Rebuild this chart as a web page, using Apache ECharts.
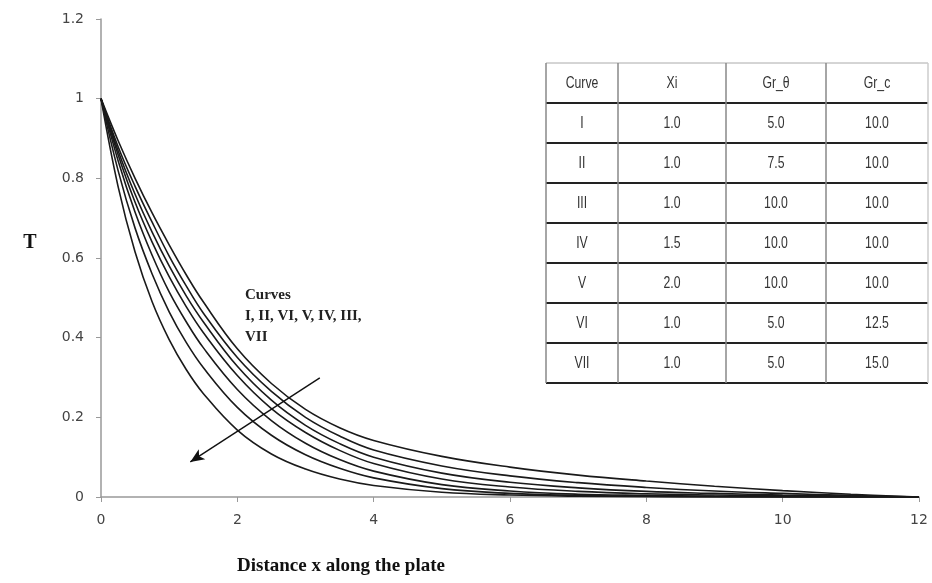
<!DOCTYPE html>
<html>
<head>
<meta charset="utf-8">
<script src="https://cdn.jsdelivr.net/npm/echarts@6/dist/echarts.min.js"></script>
<style>html,body{margin:0;padding:0;background:#fff}#c{width:932px;height:583px}</style>
</head>
<body>
<div id="c"></div>
<script>
// ---- data ----
const xs = [0, 0.25, 0.5, 0.75, 1, 1.25, 1.5, 2, 2.5, 3, 3.5, 4, 5, 6, 7, 8, 9, 10, 11, 12];
const curveI   = [1, 0.895, 0.80, 0.713, 0.633, 0.558, 0.49, 0.372, 0.285, 0.22, 0.174, 0.142, 0.102, 0.075, 0.055, 0.04, 0.027, 0.016, 0.007, 0];
const curveII  = [1, 0.88, 0.78, 0.69, 0.605, 0.53, 0.462, 0.35, 0.265, 0.2, 0.153, 0.118, 0.078, 0.053, 0.036, 0.024, 0.015, 0.009, 0.004, 0];
const curveVI  = [1, 0.87, 0.76, 0.665, 0.58, 0.505, 0.44, 0.328, 0.243, 0.18, 0.134, 0.10, 0.06, 0.037, 0.023, 0.014, 0.009, 0.005, 0.002, 0];
const curveV   = [1, 0.86, 0.74, 0.64, 0.553, 0.478, 0.413, 0.305, 0.222, 0.162, 0.117, 0.084, 0.045, 0.025, 0.014, 0.008, 0.005, 0.003, 0.001, 0];
const curveIV  = [1, 0.845, 0.715, 0.607, 0.515, 0.44, 0.375, 0.27, 0.192, 0.135, 0.094, 0.065, 0.031, 0.015, 0.007, 0.004, 0.002, 0.001, 0, 0];
const curveIII = [1, 0.82, 0.675, 0.56, 0.465, 0.388, 0.325, 0.225, 0.155, 0.106, 0.072, 0.048, 0.021, 0.009, 0.004, 0.002, 0.001, 0, 0, 0];
const curveVII = [1, 0.78, 0.615, 0.49, 0.395, 0.32, 0.26, 0.168, 0.108, 0.07, 0.045, 0.029, 0.012, 0.005, 0.002, 0.001, 0, 0, 0, 0];
const curveNames = ['I', 'II', 'VI', 'V', 'IV', 'III', 'VII'];
const curveValues = [curveI, curveII, curveVI, curveV, curveIV, curveIII, curveVII];
const xTicks = [0, 2, 4, 6, 8, 10, 12];
const yTicks = [0, 0.2, 0.4, 0.6, 0.8, 1, 1.2];
const arrowStart = [3.21, 0.299];
const arrowEnd = [1.31, 0.088];

// table
const tableHeader = ['Curve', 'Xi', 'Gr_\u03b8', 'Gr_c'];
const tableCurve = ['I', 'II', 'III', 'IV', 'V', 'VI', 'VII'];
const tableXi = ['1.0', '1.0', '1.0', '1.5', '2.0', '1.0', '1.0'];
const tableGrTheta = ['5.0', '7.5', '10.0', '10.0', '10.0', '5.0', '5.0'];
const tableGrC = ['10.0', '10.0', '10.0', '10.0', '10.0', '12.5', '15.0'];

// ---- chart ----
const chart = echarts.init(document.getElementById('c'), null, {renderer: 'canvas'});

const series = curveValues.map((vals, i) => {
  const s = {
    name: curveNames[i],
    type: 'line',
    data: xs.map((x, j) => [x, vals[j]]),
    smooth: 0.4,
    showSymbol: false,
    symbol: 'none',
    lineStyle: {color: '#1a1a1a', width: 1.6},
    z: 3
  };
  if (i === curveValues.length - 1) {
    s.markLine = {
      silent: true,
      symbol: ['none', 'arrow'],
      symbolSize: [9, 14],
      label: {show: false},
      lineStyle: {color: '#111', width: 1.4, type: 'solid'},
      data: [[{coord: arrowStart}, {coord: arrowEnd}]]
    };
  }
  return s;
});

// table graphic
const colB = [546, 618, 726, 826, 928];
const rowTop = 63, rowH = 40;
const tg = [];
tg.push({type: 'rect', shape: {x: colB[0], y: rowTop, width: colB[4] - colB[0], height: rowH * 8}, style: {fill: '#fff'}, z: 10});
for (let r = 0; r <= 8; r++) {
  tg.push({type: 'line', shape: {x1: colB[0], y1: rowTop + r * rowH, x2: colB[4], y2: rowTop + r * rowH},
    style: {stroke: r === 0 ? '#aaa' : '#222', lineWidth: r === 0 ? 1 : 2}, z: 11});
}
for (let c = 0; c < colB.length; c++) {
  tg.push({type: 'line', shape: {x1: colB[c], y1: rowTop, x2: colB[c], y2: rowTop + rowH * 8},
    style: {stroke: c === colB.length - 1 ? '#ccc' : '#888', lineWidth: 1.5}, z: 11});
}
const cols = [tableCurve, tableXi, tableGrTheta, tableGrC];
const cellFont = '17px "Liberation Sans", sans-serif';
for (let c = 0; c < 4; c++) {
  const cx = (colB[c] + colB[c + 1]) / 2;
  tg.push({type: 'text', x: cx, y: rowTop + rowH / 2, scaleX: 0.72, style: {text: tableHeader[c], font: cellFont, fill: '#333', align: 'center', verticalAlign: 'middle'}, z: 12});
  for (let r = 0; r < 7; r++) {
    tg.push({type: 'text', x: cx, y: rowTop + rowH * (r + 1.5), scaleX: 0.72, style: {text: cols[c][r], font: cellFont, fill: '#333', align: 'center', verticalAlign: 'middle'}, z: 12});
  }
}

const serifBold = 'bold 20px "Liberation Serif", "DejaVu Serif", serif';
const graphics = tg.concat([
  {type: 'text', x: 30, y: 243, style: {text: 'T', font: serifBold, fill: '#111', align: 'center', verticalAlign: 'middle'}, z: 12},
  {type: 'text', x: 341, y: 566, style: {text: 'Distance x along the plate', font: 'bold 19px "Liberation Serif", "DejaVu Serif", serif', fill: '#111', align: 'center', verticalAlign: 'middle'}, z: 12},
  {type: 'text', x: 245, y: 285, style: {text: 'Curves\nI, II, VI, V, IV, III,\nVII', font: 'bold 15px "Liberation Serif", "DejaVu Serif", serif', lineHeight: 21, fill: '#222', align: 'left', verticalAlign: 'top'}, z: 12}
]);

chart.setOption({
  animation: false,
  backgroundColor: '#fff',
  grid: {left: 101, right: 13, top: 19, bottom: 86, containLabel: false},
  xAxis: {
    type: 'value', min: xTicks[0], max: xTicks[xTicks.length - 1], interval: 2,
    axisLine: {lineStyle: {color: '#999', width: 1.5}},
    axisTick: {show: true, length: 5, lineStyle: {color: '#999'}},
    splitLine: {show: false},
    axisLabel: {margin: 16, color: '#444', fontSize: 14, fontFamily: 'DejaVu Sans'}
  },
  yAxis: {
    type: 'value', min: yTicks[0], max: yTicks[yTicks.length - 1], interval: 0.2,
    axisLine: {show: true, lineStyle: {color: '#999', width: 1.5}},
    axisTick: {show: true, length: 5, lineStyle: {color: '#999'}},
    splitLine: {show: false},
    axisLabel: {margin: 17, color: '#444', fontSize: 14, fontFamily: 'DejaVu Sans',
      formatter: v => String(Math.round(v * 10) / 10)}
  },
  series: series,
  graphic: graphics
});
</script>
</body>
</html>
